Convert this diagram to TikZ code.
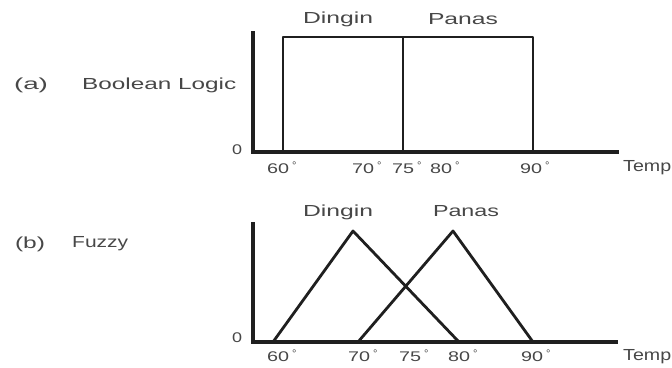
\documentclass[tikz,border=0pt]{standalone}
\usepackage{fontspec}
\setmainfont{Liberation Sans}
\newcommand{\fw}[2]{\resizebox{#1}{\height}{#2}}
\newcommand{\tk}[1]{\fw{22pt}{#1}\hspace{3pt}\raisebox{4pt}{\fontsize{11}{11}\selectfont °}}
\begin{document}
\begin{tikzpicture}[x=1pt,y=-1pt,
  txt/.style={font=\fontsize{16}{18}\selectfont, text=black!72, inner sep=0pt},
  tick/.style={font=\fontsize{14}{16}\selectfont, text=black!72, inner sep=0pt, anchor=west},
  axis/.style={line width=3.6pt, draw=black!88, line cap=rect},
  curve/.style={line width=2.8pt, draw=black!88, line join=round}]
\useasboundingbox (0,0) rectangle (672,367);
% ---------- (a) Boolean Logic ----------
\node[txt] (la) at (31,85) {\fw{34pt}{(a)}};
\node[txt, anchor=west] (boolean) at (82,85) {\fw{154pt}{Boolean Logic}};
\node[txt] (d1) at (338,19) {\fw{70pt}{Dingin}};
\node[txt] (p1) at (463,19) {\fw{70pt}{Panas}};
\node[tick] (z1) at (232,150) {\fw{10pt}{0}};
\coordinate (a0) at (253,33);
\coordinate (ao) at (253,152);
\coordinate (ae) at (617,152);
\draw[axis] (a0) -- (ao) -- (ae);
\coordinate (r1b) at (283,152); \coordinate (r1t) at (283,37);
\coordinate (r2b) at (403,152); \coordinate (r2t) at (403,37);
\coordinate (r3b) at (533,152); \coordinate (r3t) at (533,37);
\draw[curve] (r1b) -- (r1t) -- (r3t) -- (r3b);
\draw[curve] (r2t) -- (r2b);
\node[tick] (t60a) at (267,168) {\tk{60}};
\node[tick] (t70a) at (352,168) {\tk{70}};
\node[tick] (t75a) at (392,168) {\tk{75}};
\node[tick] (t80a) at (430,168) {\tk{80}};
\node[tick] (t90a) at (520,168) {\tk{90}};
\node[txt, anchor=west] (tempa) at (623,168) {\fw{48pt}{Temp}};
% ---------- (b) Fuzzy ----------
\node[txt] (lb) at (30,244) {\fw{30pt}{(b)}};
\node[txt, anchor=west] (fuzzy) at (72,244) {\fw{56pt}{Fuzzy}};
\node[txt] (d2) at (338,212) {\fw{70pt}{Dingin}};
\node[txt] (p2) at (466,211) {\fw{66pt}{Panas}};
\node[tick] (z2) at (232,338) {\fw{10pt}{0}};
\coordinate (b0) at (253,224);
\coordinate (bo) at (253,342);
\coordinate (be) at (616,342);
\draw[axis] (b0) -- (bo) -- (be);
\coordinate (dl) at (273,342); \coordinate (dp) at (353,231); \coordinate (dr) at (459,342);
\coordinate (pl) at (358,342); \coordinate (pp) at (453,231); \coordinate (pr) at (533,342);
\draw[curve] (dl) -- (dp) -- (dr);
\draw[curve] (pl) -- (pp) -- (pr);
\node[tick] (t60b) at (267,356) {\tk{60}};
\node[tick] (t70b) at (348,356) {\tk{70}};
\node[tick] (t75b) at (399,356) {\tk{75}};
\node[tick] (t80b) at (448,356) {\tk{80}};
\node[tick] (t90b) at (521,356) {\tk{90}};
\node[txt, anchor=west] (tempb) at (623,357) {\fw{48pt}{Temp}};
\end{tikzpicture}
\end{document}
